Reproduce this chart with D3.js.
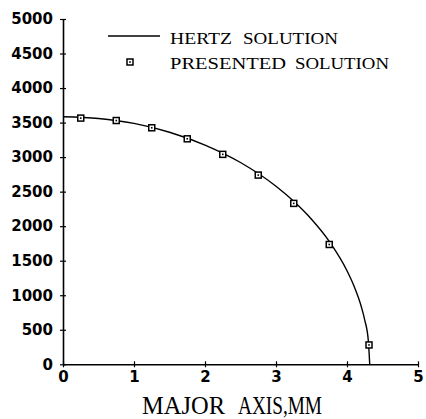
<!DOCTYPE html>
<html><head><meta charset="utf-8">
<script src="https://cdn.jsdelivr.net/npm/d3@7"></script>
<style>body{margin:0;background:#fff}svg{display:block}</style>
</head><body>
<script>
const xTicks = [0,1,2,3,4,5];
const yTicks = [0,500,1000,1500,2000,2500,3000,3500,4000,4500,5000];
const hertzX = [0,0.5,1.0,1.5,2.0,2.5,3.0,3.25,3.5,3.75,4.0,4.1,4.2,4.25,4.3,4.32];
const hertzY = [3585,3560,3488,3360,3175,2922,2578,2360,2100,1780,1355,1130,840,640,345,0];
const presX = [0.25,0.75,1.25,1.75,2.25,2.75,3.25,3.75,4.31];
const presY = [3565,3530,3425,3265,3040,2740,2330,1735,280];
const legendLabels = ["HERTZ SOLUTION","PRESENTED SOLUTION"];
const xTitle = "MAJOR AXIS,MM";

const W=426,H=419;
const svg=d3.select("body").append("svg").attr("width",W).attr("height",H);
const x=d3.scaleLinear().domain([0,5]).range([63,418]);
const y=d3.scaleLinear().domain([0,5000]).range([364.3,19]);
const fmt=d3.format("d");

const ax=svg.append("g").attr("transform","translate(0,"+y(0)+")")
  .call(d3.axisBottom(x).tickValues(xTicks).tickFormat(fmt).tickSize(0).tickPadding(7));
ax.select(".domain").attr("stroke","#000").attr("stroke-width",1.6);
ax.selectAll(".tick").append("line").attr("y1",-3).attr("y2",3).attr("stroke","#000").attr("stroke-width",1.2);
ax.selectAll("text").attr("font-family","DejaVu Sans").attr("font-weight","bold").attr("font-size",15).attr("fill","#000");

const ay=svg.append("g").attr("transform","translate("+x(0)+",0)")
  .call(d3.axisLeft(y).tickValues(yTicks).tickFormat(fmt).tickSize(0).tickPadding(10));
ay.select(".domain").attr("stroke","#000").attr("stroke-width",1.6);
ay.selectAll(".tick").append("line").attr("x1",-3).attr("x2",3).attr("stroke","#000").attr("stroke-width",1.2);
ay.selectAll("text").attr("font-family","DejaVu Sans").attr("font-weight","bold").attr("font-size",15).attr("fill","#000");

const hd=hertzX.map((v,i)=>[v,hertzY[i]]);
svg.append("path").datum(hd).attr("fill","none").attr("stroke","#000").attr("stroke-width",1.4)
  .attr("d",d3.line().x(d=>x(d[0])).y(d=>y(d[1])).curve(d3.curveMonotoneX));

const pd=presX.map((v,i)=>[v,presY[i]]);
function marker(g,cx,cy){
  g.append("rect").attr("x",cx-3).attr("y",cy-3).attr("width",6).attr("height",6)
    .attr("fill","#fff").attr("stroke","#000").attr("stroke-width",1.5);
  g.append("rect").attr("x",cx-0.8).attr("y",cy-0.8).attr("width",1.6).attr("height",1.6).attr("fill","#000");
}
const mg=svg.append("g");
pd.forEach(d=>marker(mg,x(d[0]),y(d[1])));

// legend
svg.append("line").attr("x1",108).attr("x2",160).attr("y1",36).attr("y2",36).attr("stroke","#000").attr("stroke-width",1.4);
marker(svg,130,62);
function words(str,xs,ends,yy,fs){
  str.split(" ").forEach((w,i)=>{
    svg.append("text").attr("x",xs[i]).attr("y",yy).text(w)
      .attr("font-family","Liberation Serif").attr("font-size",fs)
      .attr("textLength",ends[i]-xs[i]).attr("lengthAdjust","spacingAndGlyphs");
  });
}
words(legendLabels[0],[170,243],[232,338],44,17);
words(legendLabels[1],[170,295],[286,389],69,17);
words(xTitle,[142,238],[225,322],414,26);
</script>
</body></html>
